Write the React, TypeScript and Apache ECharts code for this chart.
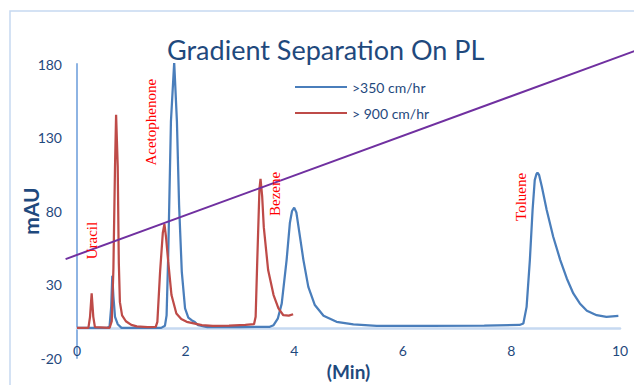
import React, { useEffect, useRef } from 'react';
import * as echarts from 'echarts';

// ---- data ----
const xTicks = [0, 2, 4, 6, 8, 10];
const yTicks = [-20, 30, 80, 130, 180];

const blueName = '>350 cm/hr';
const blueTime = [0, 0.55, 0.6, 0.63, 0.65, 0.67, 0.7, 0.75, 0.82, 1.55, 1.62, 1.65, 1.68, 1.73, 1.79, 1.84, 1.88, 1.93, 1.99, 2.05, 2.11, 2.17, 2.23, 2.4, 3.0, 3.55, 3.62, 3.7, 3.77, 3.86, 3.92, 3.96, 4.0, 4.04, 4.08, 4.17, 4.26, 4.38, 4.54, 4.78, 5.09, 5.52, 6.5, 7.5, 8.15, 8.22, 8.28, 8.34, 8.39, 8.43, 8.46, 8.48, 8.51, 8.56, 8.65, 8.77, 8.9, 9.02, 9.14, 9.26, 9.39, 9.57, 9.75, 9.97];
const blueAbs = [0.5, 0.5, 1.5, 15, 36, 22, 8, 3, 0.5, 0.5, 2, 9, 50, 141, 181, 141, 84, 38.6, 13.7, 7.5, 5.7, 4.5, 2.3, 1, 1, 1.2, 2.3, 7, 17, 46.6, 71.8, 80, 82.3, 79, 69, 46.6, 28.4, 16, 8.7, 4.6, 2.8, 1.9, 1.8, 2, 2.5, 3.5, 14.8, 46.6, 80.7, 101, 105, 106, 104.5, 96.6, 80.7, 62.5, 46.6, 34.1, 23.9, 17.1, 12.1, 9.1, 8, 8.7];

const redName = '> 900 cm/hr';
const redTime = [0, 0.21, 0.24, 0.27, 0.3, 0.33, 0.6, 0.64, 0.67, 0.7, 0.72, 0.75, 0.77, 0.79, 0.83, 0.9, 1.0, 1.1, 1.3, 1.45, 1.48, 1.53, 1.58, 1.61, 1.64, 1.68, 1.74, 1.83, 1.92, 2.02, 2.3, 2.5, 2.8, 3.1, 3.26, 3.29, 3.32, 3.36, 3.38, 3.41, 3.44, 3.52, 3.62, 3.71, 3.8, 3.9, 3.98];
const redAbs = [0.5, 0.5, 8, 24, 8, 1, 0.5, 5, 40, 110, 145.5, 110, 45, 18, 9, 5, 2.5, 1.5, 1, 1.2, 4.6, 38.6, 65, 71, 62, 45.5, 22.8, 10.3, 6.5, 4.6, 2.3, 1.8, 2, 2.5, 3, 8, 46.6, 95, 101.8, 90, 69, 39.8, 22.8, 13.7, 9.1, 8.8, 9.8];

const gradientTime = [-0.21, 10.27];
const gradientValue = [47.3, 188.8];

const peakNames = ['Uracil', 'Acetophenone', 'Bezene', 'Toluene'];
const peakLabelTime = [0.285, 1.36, 3.64, 8.18];
const peakLabelValue = [59.9, 140.4, 91.6, 89.6];

const titleText = 'Gradient Separation On PL';
const xName = '(Min)';
const yName = 'mAU';

const NAVY = '#1F497D';
const FONT = 'Lato';
const LINE_ICON = 'path://M0,0H52V2H0Z';

const zip = (a: number[], b: number[]) => a.map((v, i) => [v, b[i]]);

export default function App() {
  const ref = useRef<HTMLDivElement>(null);
  useEffect(() => {
    document.body.style.margin = '0';
    const chart = echarts.init(ref.current!, null, { renderer: 'svg' });
    chart.setOption({
      animation: false,
      backgroundColor: '#ffffff',
      title: {
        text: titleText,
        left: 167,
        top: 36,
        padding: 0,
        textStyle: { fontFamily: FONT, fontSize: 27, fontWeight: 'normal', color: NAVY },
      },
      legend: {
        orient: 'vertical',
        left: 295,
        top: 80,
        padding: 0,
        itemWidth: 52,
        itemHeight: 14,
        itemGap: 12,
        icon: LINE_ICON,
        data: [blueName, redName],
        textStyle: { fontFamily: FONT, fontSize: 14, color: NAVY },
      },
      grid: { left: 77, right: 14, top: 64, bottom: 27, outerBoundsMode: 'none', containLabel: false },
      xAxis: [
        {
          type: 'value',
          min: xTicks[0],
          max: xTicks[xTicks.length - 1],
          interval: 2,
          axisLine: { show: false, onZero: false },
          axisTick: { show: false },
          splitLine: { show: false },
          axisLabel: { margin: -15, fontFamily: FONT, fontSize: 14, color: NAVY },
          name: xName,
          nameLocation: 'middle',
          nameGap: 4,
          nameMoveOverlap: false,
          nameTextStyle: { fontFamily: FONT, fontSize: 19, fontWeight: 'bold', color: NAVY },
        },
        {
          type: 'value',
          min: xTicks[0],
          max: xTicks[xTicks.length - 1],
          position: 'bottom',
          axisLine: { show: true, onZero: true, lineStyle: { color: '#C6D9F1', width: 2.5 } },
          axisTick: { show: false },
          axisLabel: { show: false },
          splitLine: { show: false },
        },
      ],
      yAxis: {
        type: 'value',
        min: yTicks[0],
        max: yTicks[yTicks.length - 1],
        interval: 50,
        axisLine: { show: true, lineStyle: { color: '#8EB4E3', width: 2 } },
        axisTick: { show: false },
        splitLine: { show: false },
        axisLabel: { margin: 15, fontFamily: FONT, fontSize: 14, color: NAVY },
        name: yName,
        nameLocation: 'middle',
        nameRotate: 90,
        nameGap: 36,
        nameMoveOverlap: false,
        nameTextStyle: { fontFamily: FONT, fontSize: 21, fontWeight: 'bold', color: NAVY },
      },
      series: [
        {
          name: blueName,
          type: 'line',
          data: zip(blueTime, blueAbs),
          symbol: 'none',
          lineStyle: { color: '#4A7EBB', width: 2.25 },
          itemStyle: { color: '#4A7EBB' },
        },
        {
          name: redName,
          type: 'line',
          data: zip(redTime, redAbs),
          symbol: 'none',
          lineStyle: { color: '#BE4B48', width: 2.25 },
          itemStyle: { color: '#BE4B48' },
        },
      ],
    });
    const toPx = (x: number, y: number) => chart.convertToPixel({ gridIndex: 0 }, [x, y]) as number[];
    const labels = peakNames.map((name, i) => {
      const p = toPx(peakLabelTime[i], peakLabelValue[i]);
      return {
        type: 'text',
        x: p[0],
        y: p[1],
        rotation: Math.PI / 2,
        style: {
          text: name,
          fill: '#FF0000',
          font: '15px "Liberation Serif"',
          align: 'center',
          verticalAlign: 'middle',
        },
        z: 10,
      };
    });
    const gradientPoints = gradientTime.map((t, i) => toPx(t, gradientValue[i]));
    chart.setOption({
      graphic: [
        {
          type: 'rect',
          shape: { x: 10, y: 11, width: 700, height: 500 },
          style: { fill: 'none', stroke: '#C6D9F1', lineWidth: 1.5 },
          silent: true,
        },
        {
          type: 'polyline',
          shape: { points: gradientPoints },
          style: { fill: 'none', stroke: '#7030A0', lineWidth: 2 },
          z: 5,
          silent: true,
        },
        ...labels,
      ],
    });
    return () => chart.dispose();
  }, []);
  return <div ref={ref} style={{ width: 634, height: 385 }} />;
}
